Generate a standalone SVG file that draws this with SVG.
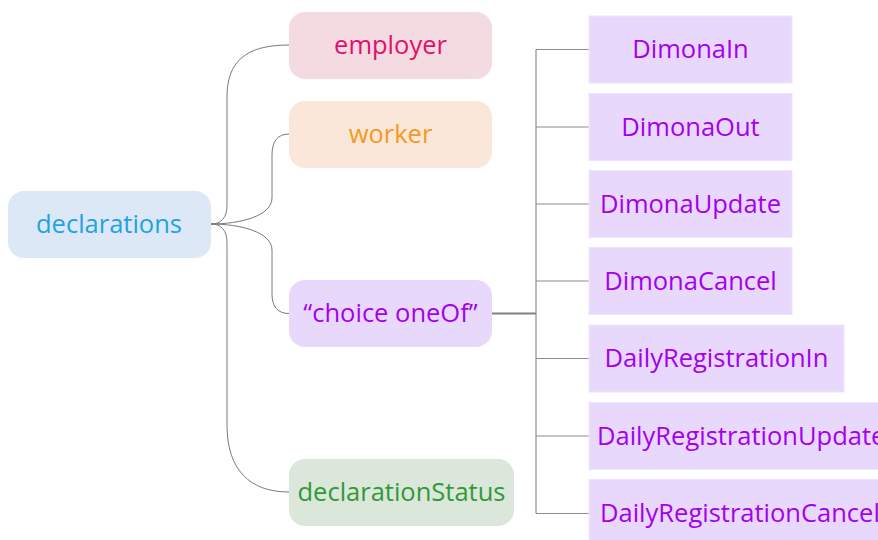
<svg xmlns="http://www.w3.org/2000/svg" width="878" height="540" viewBox="0 0 878 540">
<style>
text{font-family:"Open Sans","Noto Sans","Liberation Sans",sans-serif;font-size:25.5px;text-anchor:middle}
.c{fill:none;stroke:#7a7a7a;stroke-width:1}
.r{fill:none;stroke:#8c8c8c;stroke-width:1.2}
.leaf rect{fill:#e8d8fc;stroke:#efe4fd;stroke-width:1}
.leaf text{fill:#a400f0}
</style>
<rect width="878" height="540" fill="#ffffff"/>
<g id="connectors">
<path class="c" d="M211,224 C221,224 227,218 227,205 L227,97 C227,62 245,45 289,45"/>
<path class="c" d="M211,224 C240,224 272,216 272,198 L272,155 C272,141 278,134 289,134"/>
<path class="c" d="M211,224 C240,224 272,232 272,250 L272,294 C272,307 278,313.5 289,313.5"/>
<path class="c" d="M211,224 C221,224 227,230 227,243 L227,425 C227,470 250,492 289,492"/>
<path d="M492,313.5 H536" fill="none" stroke="#808080" stroke-width="2"/>
<path class="r" d="M536,49.5 V513.5"/>
<path class="r" d="M536,49.5 H589 M536,127 H589 M536,204 H589 M536,281 H589 M536,358.5 H589 M536,436 H589 M536,513.5 H589"/>
</g>
<g id="declarations"><rect x="8" y="191" width="203" height="67" rx="16" fill="#dce8f6"/><text x="109" y="233" fill="#1ea3e3">declarations</text></g>
<g id="employer"><rect x="289" y="12" width="203" height="67" rx="16" fill="#f4dbe2"/><text x="390.5" y="54" fill="#e1106d">employer</text></g>
<g id="worker"><rect x="289" y="101" width="203" height="67" rx="16" fill="#fbe6da"/><text x="390.5" y="143" fill="#f39a1f">worker</text></g>
<g id="choice"><rect x="289" y="280" width="203" height="67" rx="16" fill="#e8d8fc"/><text x="390.5" y="322" fill="#a400f0">“choice oneOf”</text></g>
<g id="declarationStatus"><rect x="289" y="459" width="225" height="67" rx="16" fill="#dce7dc"/><text x="401.5" y="501" fill="#2f9a36">declarationStatus</text></g>
<g id="DimonaIn" class="leaf"><rect x="589" y="16" width="203" height="67"/><text x="690.5" y="58">DimonaIn</text></g>
<g id="DimonaOut" class="leaf"><rect x="589" y="93.5" width="203" height="67"/><text x="690.5" y="135.5">DimonaOut</text></g>
<g id="DimonaUpdate" class="leaf"><rect x="589" y="170.5" width="203" height="67"/><text x="690.5" y="212.5">DimonaUpdate</text></g>
<g id="DimonaCancel" class="leaf"><rect x="589" y="247.5" width="203" height="67"/><text x="690.5" y="289.5">DimonaCancel</text></g>
<g id="DailyRegistrationIn" class="leaf"><rect x="589" y="325" width="255" height="67"/><text x="716.5" y="367">DailyRegistrationIn</text></g>
<g id="DailyRegistrationUpdate" class="leaf"><rect x="589" y="402.5" width="300" height="67"/><text x="597" y="444.5" style="text-anchor:start">DailyRegistrationUpdate</text></g>
<g id="DailyRegistrationCancel" class="leaf"><rect x="589" y="479.5" width="300" height="67"/><text x="600" y="521.5" style="text-anchor:start">DailyRegistrationCancel</text></g>
</svg>
